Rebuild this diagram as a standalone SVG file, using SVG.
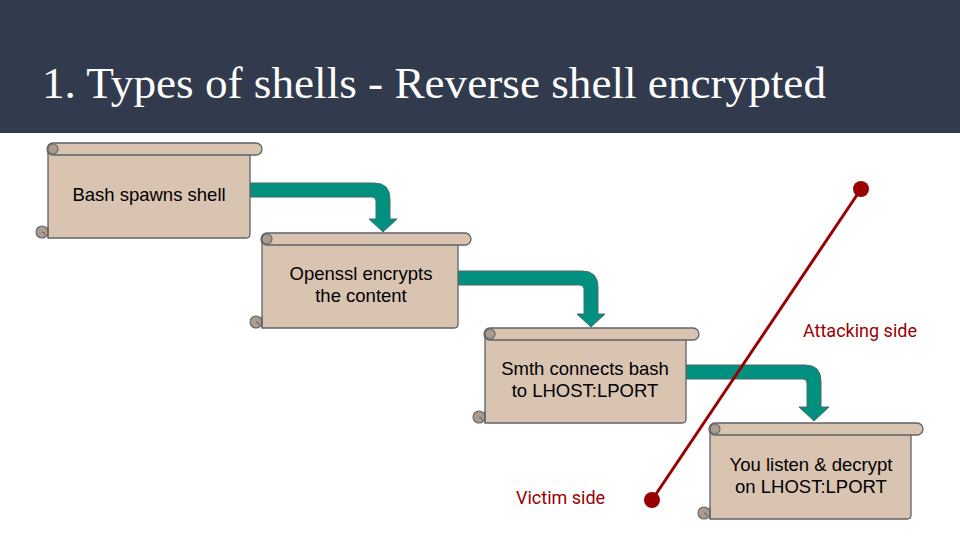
<svg xmlns="http://www.w3.org/2000/svg" width="960" height="540" viewBox="0 0 960 540">
<style>
.roll{fill:#d9c3b1;stroke:#5f6368;stroke-width:1.3}
.body{fill:#d9c3b1;stroke:#5f6368;stroke-width:1.3}
.curl{fill:#ad9c8d;stroke:#5f6368;stroke-width:1.1}
.lbl{font-family:"Liberation Sans",Arial,sans-serif;font-size:18.5px;fill:#000;text-anchor:middle}
.arrow{fill:#00907f;stroke:#4f6b66;stroke-width:1}
.side{font-family:Roboto,"Liberation Sans",sans-serif;font-size:18px;fill:#990000}
</style>
<rect x="0" y="0" width="960" height="540" fill="#ffffff"/>
<rect x="0" y="0" width="960" height="133" fill="#323a4e"/>
<text x="42" y="98" font-family="'Liberation Serif','DejaVu Serif',serif" font-size="45" fill="#ffffff" textLength="784" lengthAdjust="spacingAndGlyphs">1. Types of shells - Reverse shell encrypted</text>

<g id="connectors">
<path class="arrow" d="M250,183 H374 Q390,183 390,199 V219 H397 L383,232 L369,219 H376 V201 Q376,197 372,197 H250 Z"/>
<path class="arrow" d="M458,271 H582 Q598,271 598,287 V314 H605 L591,327 L577,314 H584 V289 Q584,285 580,285 H458 Z"/>
<path class="arrow" d="M686,365 H805 Q821,365 821,381 V407 H829 L814,421 L799,407 H807 V383 Q807,379 803,379 H686 Z"/>
</g>

<g id="scroll1">
<path class="body" d="M48,149 V238 H246 Q250,238 250,234 V155"/>
<rect class="roll" x="47" y="143" width="215" height="12" rx="6"/>
<circle class="curl" cx="53" cy="149" r="5"/>
<circle class="curl" cx="42" cy="232" r="6"/>
<path d="M42,232 A3,3 0 0 1 45,235 M48,226 V238" fill="none" stroke="#5f6368" stroke-width="1"/>
<text class="lbl" x="149" y="201">Bash spawns shell</text>
</g>

<g id="scroll2">
<path class="body" d="M262,239 V328 H454 Q458,328 458,324 V245"/>
<rect class="roll" x="261" y="233" width="210" height="12" rx="6"/>
<circle class="curl" cx="267" cy="239" r="5"/>
<circle class="curl" cx="256" cy="322" r="6"/>
<path d="M256,322 A3,3 0 0 1 259,325 M262,316 V328" fill="none" stroke="#5f6368" stroke-width="1"/>
<text class="lbl" x="361" y="280">Openssl encrypts</text>
<text class="lbl" x="361" y="302">the content</text>
</g>

<g id="scroll3">
<path class="body" d="M485,334 V423 H682 Q686,423 686,419 V340"/>
<rect class="roll" x="484" y="328" width="215" height="12" rx="6"/>
<circle class="curl" cx="490" cy="334" r="5"/>
<circle class="curl" cx="479" cy="417" r="6"/>
<path d="M479,417 A3,3 0 0 1 482,420 M485,411 V423" fill="none" stroke="#5f6368" stroke-width="1"/>
<text class="lbl" x="585" y="375">Smth connects bash</text>
<text class="lbl" x="585" y="397">to LHOST:LPORT</text>
</g>

<g id="scroll4">
<path class="body" d="M710,429 V519 H907 Q911,519 911,515 V435"/>
<rect class="roll" x="709" y="423" width="214" height="12" rx="6"/>
<circle class="curl" cx="715" cy="429" r="5"/>
<circle class="curl" cx="704" cy="513" r="6"/>
<path d="M704,513 A3,3 0 0 1 707,516 M710,507 V519" fill="none" stroke="#5f6368" stroke-width="1"/>
<text class="lbl" x="811" y="471">You listen &amp; decrypt</text>
<text class="lbl" x="811" y="493">on LHOST:LPORT</text>
</g>

<g id="divider">
<line x1="652" y1="500" x2="861" y2="189" stroke="#990000" stroke-width="3"/>
<circle cx="652" cy="500" r="8" fill="#990000"/>
<circle cx="861" cy="189" r="8" fill="#990000"/>
<text class="side" x="803" y="337">Attacking side</text>
<text class="side" x="516" y="504">Victim side</text>
</g>
</svg>
